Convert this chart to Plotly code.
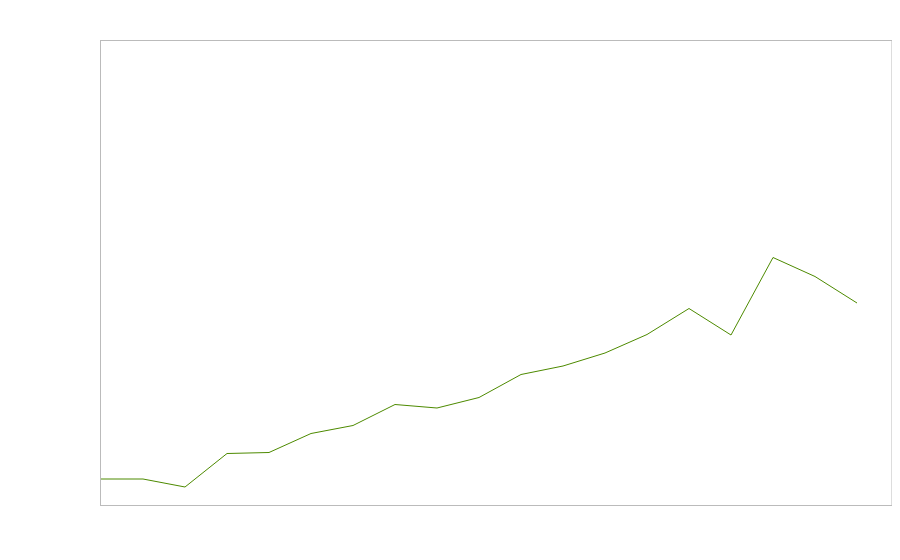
import plotly.graph_objects as go

x_idx = list(range(19))
values = [26, 26, 18, 51.5, 52.5, 71.5, 79.5, 100.5, 97, 107.5, 130.5, 139, 152, 170.5, 196.5, 170, 247.5, 228.5, 202]

fig = go.Figure()
fig.add_trace(go.Scatter(x=x_idx, y=values, mode="lines",
                         line=dict(color="#4d8a00", width=1), hoverinfo="skip"))
fig.update_layout(
    width=884, height=544,
    margin=dict(l=93, r=0, t=33, b=47),
    paper_bgcolor="white", plot_bgcolor="white",
    showlegend=False,
)
fig.update_xaxes(range=[0, 791/42], showgrid=False, zeroline=False, showticklabels=False,
                 ticks="", showline=True, mirror=True, linecolor="#bbbbbb", linewidth=1)
fig.update_yaxes(range=[0, 464], showgrid=False, zeroline=False, showticklabels=False,
                 ticks="", showline=True, mirror=True, linecolor="#bbbbbb", linewidth=1)
fig.add_shape(type="line", xref="paper", yref="paper", x0=1, x1=1, y0=0, y1=1,
              line=dict(color="#bbbbbb", width=1))
fig.write_html("out.html")
